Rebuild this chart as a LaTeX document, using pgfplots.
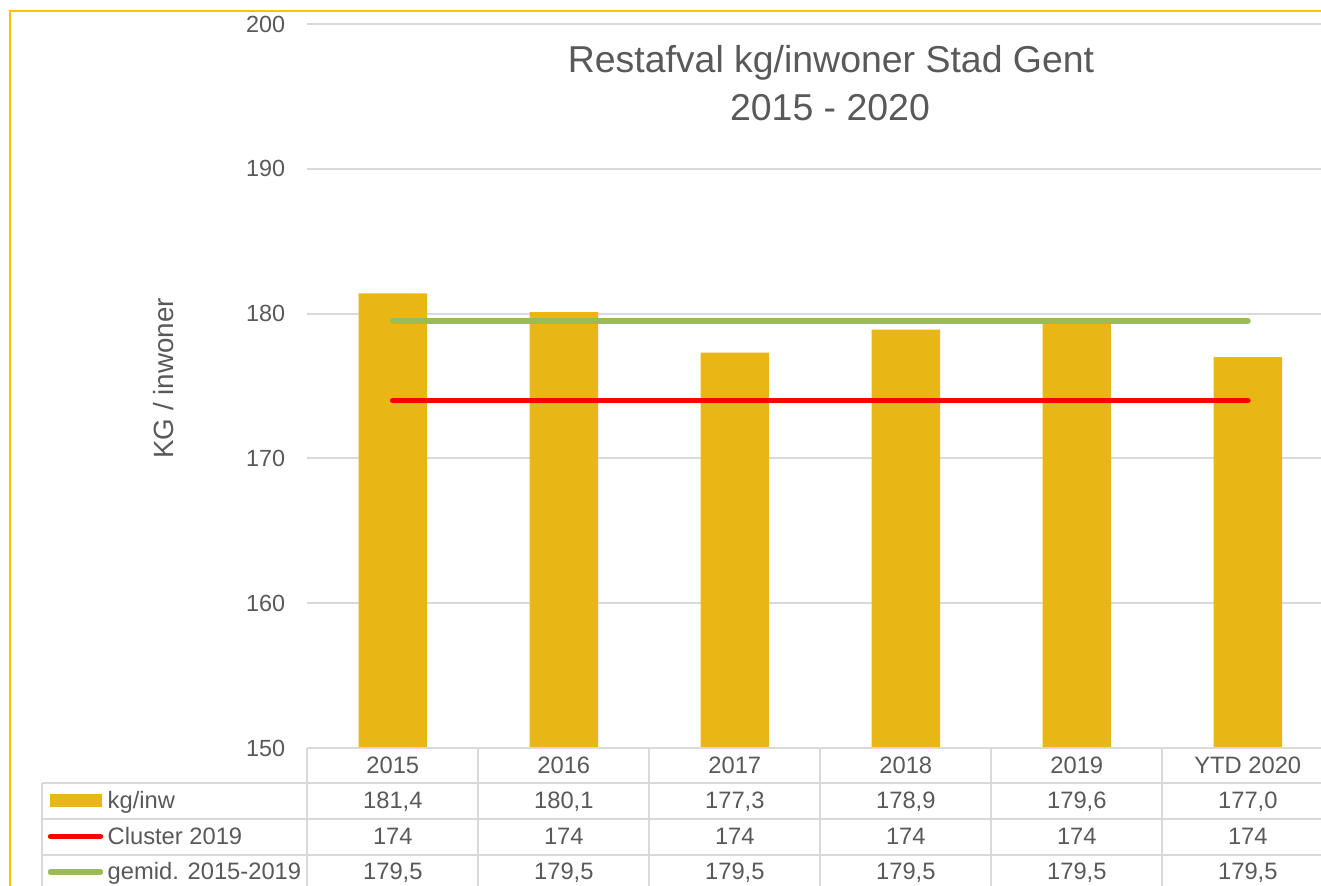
\documentclass[border=0pt]{standalone}
\usepackage{fontspec}
\setmainfont{Liberation Sans}
\usepackage{pgfplots}
\pgfplotsset{compat=1.18}
\definecolor{txt}{HTML}{595959}
\definecolor{gold}{HTML}{E8B716}
\definecolor{clred}{HTML}{FF0000}
\definecolor{avgreen}{HTML}{9BBB59}
\definecolor{gridc}{HTML}{D9D9D9}
\definecolor{framec}{HTML}{FFC000}
% font sizes: 1px = 0.1mm
\newcommand\ticksz{\fontsize{6.65pt}{8pt}\selectfont}
\newcommand\tabsz{\fontsize{6.75pt}{8pt}\selectfont}
\newcommand\labsz{\fontsize{7.9pt}{9.5pt}\selectfont}
\newcommand\titsz{\fontsize{10.65pt}{13.4pt}\selectfont}

\begin{document}
\begin{tikzpicture}[x=0.1mm,y=0.1mm]
\useasboundingbox (0,0) rectangle (1321,885);
\begin{scope}
\clip (0,0) rectangle (1321,885);
\fill[white] (0,0) rectangle (1321,885);
\begin{axis}[at={(30.73mm,13.7mm)}, anchor=south west,
  width=102.6mm, height=72.4mm, scale only axis,
  xmin=-0.5, xmax=5.5, ymin=150, ymax=200,
  ytick={150,160,...,200}, xtick={0,...,5},
  xticklabels={2015,2016,2017,2018,2019,YTD 2020},
  ymajorgrids, major grid style={gridc, line width=0.2mm},
  axis line style={draw=none}, tick style={draw=none},
  /pgf/number format/assume math mode=true,
  xticklabel style={anchor=base, inner sep=0pt, yshift=-2.55mm, font=\tabsz, text=txt},
  yticklabel style={anchor=east, inner sep=0pt, xshift=-2.15mm, font=\ticksz, text=txt}]
\addplot[ybar, bar width=6.85mm, fill=gold, draw=none] coordinates {(0,181.4) (1,180.1) (2,177.3) (3,178.9) (4,179.6) (5,177.0)};
\addplot[clred, line width=0.58mm, line cap=round] coordinates {(0,174) (1,174) (2,174) (3,174) (4,174) (5,174)};
\addplot[avgreen, line width=0.58mm, line cap=round] coordinates {(0,179.5) (1,179.5) (2,179.5) (3,179.5) (4,179.5) (5,179.5)};
\end{axis}
% pixel coordinates measured from the top
\begin{scope}[shift={(0,88.5mm)}, y=-0.1mm]
\draw[framec, line width=0.2mm] (9.5,900) -- (9.5,11.3) -- (1340,11.3);
\node[anchor=base, font=\titsz, text=txt] at (831,72.7) {Restafval kg/inwoner Stad Gent};
\node[anchor=base, font=\titsz, text=txt] at (830,120) {2015 - 2020};
\node[rotate=90, font=\labsz, text=txt] at (164,378.5) {KG / inwoner};
% data table
\begin{scope}[gridc, line width=0.2mm]
\draw (307.3,748) -- (1340,748);
\foreach \y in {783,819,855} \draw (42,\y) -- (1340,\y);
\draw (42,783) -- (42,900);
\foreach \i in {0,...,6} \draw ({307.3+171*\i},748) -- ({307.3+171*\i},900);
\end{scope}
\fill[gold] (50,794) rectangle (102,807);
\draw[clred, line width=0.55mm, line cap=round] (50.5,836.5) -- (100.5,836.5);
\draw[avgreen, line width=0.55mm, line cap=round] (50.5,872) -- (100.5,872);
\node[anchor=base west, inner sep=0pt, font=\tabsz, text=txt] at (107,808) {kg/inw};
\node[anchor=base west, inner sep=0pt, font=\tabsz, text=txt] at (107,844) {Cluster 2019};
\node[anchor=base west, inner sep=0pt, font=\tabsz, text=txt] at (107,879) {gemid. 2015-2019};
\foreach \v [count=\i from 0] in {{181,4},{180,1},{177,3},{178,9},{179,6},{177,0}}
  \node[anchor=base, inner sep=0pt, font=\tabsz, text=txt] at ({392.8+171*\i},808) {\v};
\foreach \i in {0,...,5}
  \node[anchor=base, inner sep=0pt, font=\tabsz, text=txt] at ({392.8+171*\i},844) {174};
\foreach \i in {0,...,5}
  \node[anchor=base, inner sep=0pt, font=\tabsz, text=txt] at ({392.8+171*\i},879) {179,5};
\end{scope}
\end{scope}
\end{tikzpicture}
\end{document}
